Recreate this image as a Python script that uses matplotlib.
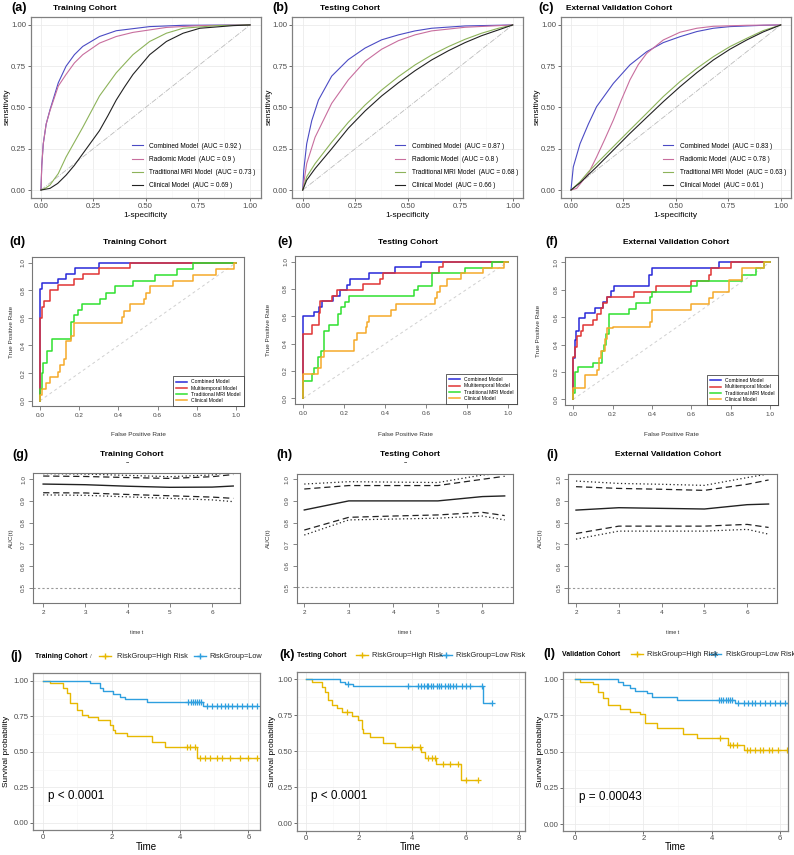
import numpy as np
import matplotlib.pyplot as plt
from matplotlib.lines import Line2D

plt.rcParams['font.family'] = ['Liberation Sans', 'DejaVu Sans']

W, H = 794, 855
fig = plt.figure(figsize=(W / 100, H / 100), dpi=100)

# ---------------- data ----------------
# row 1: smoothed ROC curves (fpr, sensitivity)
a_comb = [(0, 0), (0.004, 0.15), (0.011, 0.28), (0.025, 0.40), (0.043, 0.485), (0.083, 0.65), (0.12, 0.75),
          (0.16, 0.82), (0.2, 0.87), (0.28, 0.93), (0.36, 0.965), (0.52, 0.99), (0.68, 0.998), (1, 1)]
a_rad = [(0, 0), (0.004, 0.15), (0.011, 0.28), (0.025, 0.40), (0.043, 0.48), (0.083, 0.63), (0.12, 0.70),
         (0.16, 0.77), (0.2, 0.82), (0.28, 0.89), (0.36, 0.93), (0.44, 0.955), (0.6, 0.985), (0.76, 0.996), (1, 1)]
a_mri = [(0, 0), (0.02, 0.01), (0.043, 0.03), (0.083, 0.10), (0.12, 0.2), (0.16, 0.29), (0.2, 0.38), (0.24, 0.475),
         (0.28, 0.57), (0.36, 0.71), (0.44, 0.82), (0.52, 0.9), (0.6, 0.95), (0.68, 0.98), (0.84, 0.996), (1, 1)]
a_cli = [(0, 0), (0.043, 0.01), (0.08, 0.04), (0.12, 0.09), (0.16, 0.15), (0.2, 0.22), (0.24, 0.29), (0.28, 0.36),
         (0.32, 0.45), (0.36, 0.545), (0.4, 0.625), (0.44, 0.7), (0.52, 0.82), (0.6, 0.9), (0.68, 0.95),
         (0.76, 0.98), (0.92, 0.996), (1, 1)]

b_comb = [(0, 0), (0.005, 0.12), (0.019, 0.28), (0.043, 0.42), (0.075, 0.545), (0.138, 0.69), (0.217, 0.79),
          (0.297, 0.86), (0.376, 0.91), (0.456, 0.94), (0.535, 0.964), (0.614, 0.98), (0.773, 0.994), (1, 1)]
b_rad = [(0, 0), (0.019, 0.16), (0.059, 0.32), (0.138, 0.525), (0.217, 0.667), (0.297, 0.78), (0.376, 0.853),
         (0.456, 0.905), (0.535, 0.94), (0.614, 0.964), (0.773, 0.986), (1, 1)]
b_mri = [(0, 0), (0.019, 0.08), (0.059, 0.16), (0.138, 0.29), (0.217, 0.41), (0.297, 0.515), (0.376, 0.606),
         (0.456, 0.687), (0.535, 0.758), (0.614, 0.818), (0.694, 0.869), (0.773, 0.913), (0.852, 0.95),
         (0.932, 0.98), (1, 1)]
b_cli = [(0, 0), (0.019, 0.06), (0.059, 0.13), (0.138, 0.25), (0.217, 0.374), (0.297, 0.479), (0.376, 0.57),
         (0.456, 0.65), (0.535, 0.723), (0.614, 0.788), (0.694, 0.844), (0.773, 0.893), (0.852, 0.935),
         (0.932, 0.97), (1, 1)]

c_comb = [(0, 0), (0.011, 0.14), (0.043, 0.28), (0.083, 0.40), (0.122, 0.505), (0.202, 0.646), (0.281, 0.758),
          (0.361, 0.838), (0.44, 0.893), (0.52, 0.929), (0.6, 0.96), (0.679, 0.98), (0.758, 0.99), (0.917, 0.998), (1, 1)]
c_rad = [(0, 0), (0.027, 0.01), (0.083, 0.10), (0.122, 0.2), (0.162, 0.31), (0.202, 0.424), (0.24, 0.545),
         (0.281, 0.667), (0.321, 0.76), (0.361, 0.828), (0.44, 0.909), (0.52, 0.956), (0.6, 0.98), (0.679, 0.992),
         (0.838, 0.998), (1, 1)]
c_mri = [(0, 0), (0.043, 0.05), (0.083, 0.11), (0.122, 0.16), (0.202, 0.263), (0.281, 0.364), (0.361, 0.465),
         (0.44, 0.566), (0.52, 0.657), (0.6, 0.737), (0.679, 0.808), (0.758, 0.869), (0.838, 0.919), (0.917, 0.966), (1, 1)]
c_cli = [(0, 0), (0.043, 0.044), (0.122, 0.14), (0.202, 0.242), (0.281, 0.343), (0.361, 0.44), (0.44, 0.535),
         (0.52, 0.626), (0.6, 0.711), (0.679, 0.788), (0.758, 0.853), (0.838, 0.909), (0.917, 0.958), (1, 1)]

row1_models = ['Combined Model', 'Radiomic Model', 'Traditional MRI Model', 'Clinical Model']
a_auc = ['0.92', '0.9', '0.73', '0.69']
b_auc = ['0.87', '0.8', '0.68', '0.66']
c_auc = ['0.83', '0.78', '0.63', '0.61']

# row 2: empirical ROC steps (fpr where tpr jumps, tpr level)
d_comb_x = [0, 0, 0.01, 0.09, 0.13, 0.18, 0.3, 1]
d_comb_y = [0, 0.81, 0.85, 0.88, 0.92, 0.96, 1.0, 1.0]
d_multi_x = [0, 0, 0.01, 0.02, 0.05, 0.09, 0.175, 0.22, 0.3, 0.46, 1]
d_multi_y = [0, 0.6, 0.68, 0.72, 0.8, 0.84, 0.88, 0.92, 0.96, 1.0, 1.0]
d_mri_x = [0, 0, 0.01, 0.015, 0.034, 0.06, 0.158, 0.173, 0.196, 0.213, 0.306, 0.337, 0.383, 0.476, 0.587, 0.697, 0.78, 1]
d_mri_y = [0, 0.085, 0.2, 0.27, 0.36, 0.45, 0.57, 0.62, 0.66, 0.70, 0.74, 0.78, 0.83, 0.87, 0.91, 0.955, 1.0, 1.0]
d_cli_x = [0, 0, 0.01, 0.03, 0.05, 0.09, 0.1, 0.12, 0.135, 0.16, 0.175, 0.42, 0.43, 0.46, 0.53, 0.54, 0.56, 0.68,
           0.78, 0.9, 0.99, 1]
d_cli_y = [0, 0.04, 0.085, 0.13, 0.17, 0.21, 0.26, 0.3, 0.43, 0.47, 0.56, 0.61, 0.65, 0.7, 0.74, 0.78, 0.83, 0.87,
           0.91, 0.957, 1.0, 1.0]

e_comb_x = [0, 0, 0.05, 0.075, 0.09, 0.145, 0.18, 0.215, 0.23, 0.32, 0.445, 0.575, 1]
e_comb_y = [0, 0.6, 0.63, 0.67, 0.71, 0.75, 0.79, 0.83, 0.875, 0.917, 0.958, 1.0, 1.0]
e_multi_x = [0, 0, 0.04, 0.075, 0.08, 0.14, 0.165, 0.29, 0.375, 0.39, 0.66, 0.68, 1]
e_multi_y = [0, 0.47, 0.54, 0.625, 0.71, 0.75, 0.79, 0.835, 0.875, 0.917, 0.958, 1.0, 1.0]
e_mri_x = [0, 0, 0.04, 0.05, 0.07, 0.085, 0.1, 0.125, 0.17, 0.185, 0.205, 0.225, 0.54, 0.56, 0.63, 0.79, 0.92, 1]
e_mri_y = [0, 0.13, 0.175, 0.22, 0.3, 0.35, 0.49, 0.535, 0.62, 0.665, 0.705, 0.75, 0.79, 0.825, 0.915, 0.955, 1.0, 1.0]
e_cli_x = [0, 0, 0.07, 0.085, 0.1, 0.245, 0.26, 0.305, 0.31, 0.32, 0.43, 0.45, 0.64, 0.65, 0.665, 0.7, 0.77,
           0.875, 0.98, 1]
e_cli_y = [0, 0.175, 0.22, 0.3, 0.345, 0.43, 0.475, 0.52, 0.56, 0.605, 0.645, 0.69, 0.735, 0.78, 0.825, 0.87,
           0.915, 0.955, 1.0, 1.0]

f_comb_x = [0, 0, 0.01, 0.015, 0.03, 0.06, 0.11, 0.15, 0.17, 0.19, 0.205, 0.385, 0.4, 0.74, 1]
f_comb_y = [0, 0.3, 0.43, 0.5, 0.59, 0.63, 0.665, 0.71, 0.75, 0.79, 0.83, 0.91, 0.955, 1.0, 1.0]
f_multi_x = [0, 0, 0.01, 0.02, 0.04, 0.05, 0.1, 0.12, 0.14, 0.15, 0.17, 0.31, 0.42, 0.6, 0.69, 0.7, 0.8, 1]
f_multi_y = [0, 0.31, 0.38, 0.46, 0.5, 0.54, 0.58, 0.62, 0.665, 0.705, 0.745, 0.785, 0.825, 0.865, 0.91, 0.955, 1.0, 1.0]
f_mri_x = [0, 0, 0.01, 0.025, 0.1, 0.144, 0.156, 0.166, 0.18, 0.285, 0.32, 0.39, 0.4, 0.6, 0.627, 0.86, 0.93, 0.97, 1]
f_mri_y = [0, 0.045, 0.2, 0.235, 0.265, 0.35, 0.40, 0.48, 0.62, 0.66, 0.70, 0.745, 0.785, 0.825, 0.865, 0.91,
           0.955, 1.0, 1.0]
f_cli_x = [0, 0, 0.06, 0.12, 0.13, 0.14, 0.16, 0.17, 0.2, 0.39, 0.4, 0.6, 0.69, 0.71, 0.79, 0.86, 0.97, 1]
f_cli_y = [0, 0.085, 0.175, 0.215, 0.305, 0.35, 0.44, 0.52, 0.53, 0.565, 0.655, 0.695, 0.74, 0.78, 0.87, 0.955,
           1.0, 1.0]

row2_models = ['Combined Model', 'Multitemporal Model', 'Traditional MRI Model', 'Clinical Model']

# row 3: time-dependent AUC with two confidence bands
times = [2, 3, 4, 5, 6, 6.5]
g_auc = [0.978, 0.975, 0.968, 0.963, 0.964, 0.969]
g_dash_hi = [1.015, 1.013, 1.008, 1.004, 1.012, 1.022]
g_dot_hi = [1.026, 1.024, 1.018, 1.012, 1.02, 1.035]
g_dash_lo = [0.938, 0.937, 0.930, 0.924, 0.918, 0.912]
g_dot_lo = [0.928, 0.926, 0.919, 0.912, 0.905, 0.897]

h_auc = [0.858, 0.90, 0.90, 0.90, 0.92, 0.923]
h_dash_hi = [0.955, 0.971, 0.971, 0.971, 1.0, 1.014]
h_dot_hi = [0.978, 0.989, 0.987, 0.985, 1.02, 1.028]
h_dash_lo = [0.765, 0.824, 0.83, 0.835, 0.847, 0.832]
h_dot_lo = [0.742, 0.812, 0.816, 0.82, 0.83, 0.812]

i_auc = [0.858, 0.869, 0.866, 0.863, 0.883, 0.886]
i_dash_hi = [0.966, 0.958, 0.954, 0.949, 0.977, 0.997]
i_dot_hi = [0.992, 0.981, 0.977, 0.972, 1.008, 1.025]
i_dash_lo = [0.75, 0.784, 0.784, 0.784, 0.792, 0.778]
i_dot_lo = [0.724, 0.761, 0.761, 0.761, 0.769, 0.747]

# row 4: Kaplan-Meier curves
j_high_t = [0, 0.2, 0.59, 0.68, 0.78, 0.98, 1.12, 1.32, 1.61, 1.95, 2.05, 2.1, 2.44, 3.17, 3.56, 4.49]
j_high_s = [1.0, 0.984, 0.948, 0.913, 0.842, 0.795, 0.76, 0.744, 0.725, 0.69, 0.654, 0.63, 0.612, 0.572, 0.532, 0.454]
j_high_cens = [4.2, 4.3, 4.45, 4.59, 4.73, 4.88, 5.07, 5.22, 5.46, 5.76, 6.0, 6.24]
j_low_t = [0, 1.37, 1.66, 1.76, 2.05, 2.24, 2.39, 3.02, 4.66]
j_low_s = [1.0, 0.984, 0.953, 0.932, 0.906, 0.889, 0.871, 0.854, 0.823]
j_low_cens = [4.24, 4.31, 4.37, 4.44, 4.49, 4.56, 4.61, 4.78, 4.93, 5.07, 5.19, 5.32, 5.41, 5.51, 5.66, 5.8,
              5.95, 6.1, 6.24]

k_high_t = [0, 0.21, 0.59, 0.71, 0.84, 0.96, 1.15, 1.34, 1.71, 1.96, 2.09, 2.15, 2.4, 2.9, 3.34, 4.34, 4.47, 4.87, 5.84]
k_high_s = [1.0, 0.984, 0.949, 0.914, 0.856, 0.822, 0.799, 0.775, 0.745, 0.718, 0.653, 0.63, 0.602, 0.556, 0.528,
            0.498, 0.451, 0.41, 0.301]
k_high_cens = [1.53, 3.97, 4.28, 4.59, 4.72, 4.84, 5.16, 5.41, 5.72, 6.03, 6.47]
k_low_t = [0, 1.28, 1.46, 1.78, 6.66]
k_low_s = [1.0, 0.984, 0.968, 0.954, 0.833]
k_low_cens = [1.59, 3.84, 4.22, 4.34, 4.44, 4.53, 4.59, 4.68, 4.78, 4.91, 4.99, 5.09, 5.22, 5.32, 5.41, 5.53,
              5.62, 5.88, 6.03, 6.16, 6.6, 7.0]

l_high_t = [0, 0.15, 0.54, 0.68, 0.83, 0.98, 1.32, 1.61, 1.9, 2.05, 2.39, 3.17, 3.56, 4.47, 4.93]
l_high_s = [1.0, 0.979, 0.965, 0.915, 0.869, 0.823, 0.795, 0.776, 0.76, 0.70, 0.661, 0.622, 0.592, 0.546, 0.512]
l_high_cens = [4.24, 4.54, 4.63, 4.73, 5.02, 5.12, 5.27, 5.41, 5.51, 5.66, 5.76, 5.95, 6.2]
l_low_t = [0, 1.27, 1.41, 1.61, 1.76, 2.1, 2.24, 2.98, 4.68]
l_low_s = [1.0, 0.979, 0.961, 0.938, 0.922, 0.903, 0.876, 0.857, 0.834]
l_low_cens = [4.2, 4.26, 4.34, 4.41, 4.47, 4.54, 4.6, 4.78, 4.93, 5.07, 5.17, 5.27, 5.41, 5.56, 5.71, 5.85,
              6.0, 6.15, 6.29]

# ---------------- helpers ----------------
def box(l, t, r, b):
    return fig.add_axes([l / W, 1 - b / H, (r - l) / W, (b - t) / H])


def ftext(x, y, s, **kw):
    kw.setdefault('va', 'center')
    fig.text(x / W, 1 - y / H, s, **kw)


def gg_style(ax, xlim, ylim, xmaj, ymaj, xmin, ymin, xlab, ylab):
    ax.set_xlim(xlim)
    ax.set_ylim(ylim)
    ax.set_xticks(xmaj)
    ax.set_xticklabels(xlab)
    ax.set_yticks(ymaj)
    ax.set_yticklabels(ylab)
    ax.set_xticks(xmin, minor=True)
    ax.set_yticks(ymin, minor=True)
    ax.grid(which='major', color='#EBEBEB', lw=0.6)
    ax.grid(which='minor', color='#F5F5F5', lw=0.4)
    ax.set_axisbelow(True)
    ax.tick_params(which='minor', length=0)
    ax.tick_params(which='major', length=2, width=0.5, color='#333333', labelsize=5.6,
                   labelcolor='#4D4D4D', pad=1.2)
    for s in ax.spines.values():
        s.set_color('#808080')
        s.set_linewidth(0.9)


def base_style(ax, xlim, ylim, xt, yt, xlab, ylab):
    ax.set_xlim(xlim)
    ax.set_ylim(ylim)
    ax.set_xticks(xt)
    ax.set_xticklabels(xlab)
    ax.set_yticks(yt)
    ax.set_yticklabels(ylab, rotation=90, va='center')
    ax.tick_params(length=3, width=0.5, color='#555555', labelsize=4.6, labelcolor='#444444', pad=2)
    for s in ax.spines.values():
        s.set_color('#777777')
        s.set_linewidth(0.8)


# ---------------- row 1 ----------------
row1_colors = ['#4B4BC4', '#C86E9E', '#8DB35A', '#222222']
row1_boxes = [(30.5, 16.7, 260.5, 198.3), (292.2, 16.7, 523.2, 198.3), (560.5, 16.7, 791.2, 198.3)]
row1_curves = [[a_comb, a_rad, a_mri, a_cli], [b_comb, b_rad, b_mri, b_cli], [c_comb, c_rad, c_mri, c_cli]]
row1_aucs = [a_auc, b_auc, c_auc]
row1_tags = [('(a)', 11, 'Training Cohort', 53, 7), ('(b)', 272, 'Testing Cohort', 320, 269),
             ('(c)', 538, 'External Validation Cohort', 566, 537)]
q = [0, 0.25, 0.5, 0.75, 1]
qlab = ['0.00', '0.25', '0.50', '0.75', '1.00']
qmin = [0.125, 0.375, 0.625, 0.875]
for bx, curves, aucs, (tag, tx, title, ttx, ylx) in zip(row1_boxes, row1_curves, row1_aucs, row1_tags):
    ax = box(*bx)
    gg_style(ax, (-0.05, 1.05), (-0.05, 1.05), q, q, qmin, qmin, qlab, qlab)
    ax.plot([0, 1], [0, 1], color='#BBBBBB', lw=0.6, ls='-.')
    for pts, col, name, auc in zip(curves, row1_colors, row1_models, aucs):
        xs, ys = zip(*pts)
        ax.plot(xs, ys, color=col, lw=0.8, label=f'{name}  (AUC = {auc} )')
    ax.legend(loc='lower right', bbox_to_anchor=(0.99, 0.035), frameon=False, fontsize=4.7,
              handlelength=1.6, handletextpad=1.0, labelspacing=0.95, borderaxespad=0)
    ftext(tx, 8, tag, fontsize=9, fontweight='bold')
    ftext(ttx, 8, title, fontsize=6, fontweight='bold')
    ftext(ylx, 107, 'sensitivity', fontsize=6, rotation=90, ha='center')
    ftext((bx[0] + bx[2]) / 2, 215, '1-specificity', fontsize=6, ha='center')

# ---------------- row 2 ----------------
row2_colors = ['#2828D8', '#E03434', '#2FE02F', '#F5AA2A']
row2_boxes = [(32.2, 257.2, 243.8, 406.2), (295.1, 256.2, 516.5, 403.8), (565.4, 256.8, 777.9, 404.8)]
row2_data = [[(d_comb_x, d_comb_y), (d_multi_x, d_multi_y), (d_mri_x, d_mri_y), (d_cli_x, d_cli_y)],
             [(e_comb_x, e_comb_y), (e_multi_x, e_multi_y), (e_mri_x, e_mri_y), (e_cli_x, e_cli_y)],
             [(f_comb_x, f_comb_y), (f_multi_x, f_multi_y), (f_mri_x, f_mri_y), (f_cli_x, f_cli_y)]]
row2_tags = [('(d)', 17, 'Training Cohort', 135, 12), ('(e)', 285, 'Testing Cohort', 408, 268),
             ('(f)', 552, 'External Validation Cohort', 676, 539)]
p2 = [0, 0.2, 0.4, 0.6, 0.8, 1.0]
p2lab = ['0.0', '0.2', '0.4', '0.6', '0.8', '1.0']
for bx, series, (tag, tx, title, ttx, ylx) in zip(row2_boxes, row2_data, row2_tags):
    ax = box(*bx)
    base_style(ax, (-0.04, 1.04), (-0.04, 1.04), p2, p2, p2lab, p2lab)
    ax.plot([0, 1], [0, 1], color='#D0D0D0', lw=0.7, ls=(0, (3, 3)))
    for (xs, ys), col, name in zip(series, row2_colors, row2_models):
        ax.step(xs, ys, where='post', color=col, lw=1.1, label=name)
    leg = ax.legend(loc='lower right', bbox_to_anchor=(1, 0), fontsize=3.6, fancybox=False,
                    handlelength=2.2, handletextpad=0.8, labelspacing=0.25, borderaxespad=0,
                    borderpad=0.6, framealpha=1)
    leg.get_frame().set_edgecolor('#222222')
    leg.get_frame().set_linewidth(0.5)
    ftext(tx, 242, tag, fontsize=9, fontweight='bold', ha='center')
    ftext(ttx, 243, title, fontsize=6, fontweight='bold', ha='center')
    ftext(ylx, (bx[1] + bx[3]) / 2, 'True Positive Rate', fontsize=4.6, rotation=90, ha='center',
          color='#333333')
    ftext((bx[0] + bx[2]) / 2, 434, 'False Positive Rate', fontsize=4.6, ha='center', color='#333333')

# ---------------- row 3 ----------------
row3_boxes = [(33, 473, 240, 602.7), (296.7, 474, 512.7, 603.3), (568.3, 474, 776.7, 603.3)]
row3_lims = [((1.76, 6.66), (0.431, 1.029)), ((1.83, 6.68), (0.426, 1.0245)), ((1.82, 6.69), (0.428, 1.0245))]
row3_data = [(g_auc, g_dash_hi, g_dot_hi, g_dash_lo, g_dot_lo),
             (h_auc, h_dash_hi, h_dot_hi, h_dash_lo, h_dot_lo),
             (i_auc, i_dash_hi, i_dot_hi, i_dash_lo, i_dot_lo)]
row3_tags = [('(g)', 20, 'Training Cohort', 132, 11, True), ('(h)', 284, 'Testing Cohort', 410, 268, True),
             ('(i)', 552, 'External Validation Cohort', 668, 540, False)]
t3 = [2, 3, 4, 5, 6]
a3 = [0.5, 0.6, 0.7, 0.8, 0.9, 1.0]
for bx, (xl, yl), (auc, dhi, thi, dlo, tlo), (tag, tx, title, ttx, ylx, tilde) in zip(
        row3_boxes, row3_lims, row3_data, row3_tags):
    ax = box(*bx)
    base_style(ax, xl, yl, t3, a3, [str(v) for v in t3], [f'{v:.1f}' for v in a3])
    ax.axhline(0.5, color='#999999', lw=0.8, ls=(0, (2, 2)))
    ax.plot(times, auc, color='#222222', lw=1.0)
    ax.plot(times, dhi, color='#222222', lw=0.9, ls=(0, (5, 3)))
    ax.plot(times, dlo, color='#222222', lw=0.9, ls=(0, (5, 3)))
    ax.plot(times, thi, color='#222222', lw=0.9, ls=(0, (1, 2)))
    ax.plot(times, tlo, color='#222222', lw=0.9, ls=(0, (1, 2)))
    ftext(tx, 455, tag, fontsize=9, fontweight='bold', ha='center')
    ftext(ttx, 454, title, fontsize=6, fontweight='bold', ha='center')
    if tilde:
        ftext(ttx - 5, 463, '~', fontsize=4, fontweight='bold', ha='center')
    ftext(ylx, (bx[1] + bx[3]) / 2, 'AUC(t)', fontsize=4.6, rotation=90, ha='center', color='#333333')
    ftext((bx[0] + bx[2]) / 2, 632, 'time t', fontsize=4, ha='center', color='#333333')

# ---------------- row 4 ----------------
hi_col, lo_col = '#E7B800', '#2E9FDF'
row4_boxes = [(33, 673.3, 260, 830), (296.7, 672.3, 525, 831), (563, 672.3, 788, 831)]
row4_lims = [((-0.30, 6.34), (-0.052, 1.054)), ((-0.35, 8.23), (-0.053, 1.049)), ((-0.35, 6.23), (-0.048, 1.048))]
row4_xt = [[0, 2, 4, 6], [0, 2, 4, 6, 8], [0, 2, 4, 6]]
row4_data = [(j_high_t, j_high_s, j_high_cens, j_low_t, j_low_s, j_low_cens),
             (k_high_t, k_high_s, k_high_cens, k_low_t, k_low_s, k_low_cens),
             (l_high_t, l_high_s, l_high_cens, l_low_t, l_low_s, l_low_cens)]
row4_p = [('p < 0.0001', 0.14), ('p < 0.0001', 0.18), ('p = 0.00043', 0.12)]
row4_head = [('(j)', 16, 'Training Cohort', 35, 105, 'RiskGroup=High Risk', 117, 200, 'RiskGroup=Low', 209, 656),
             ('(k)', 287, 'Testing Cohort', 297, 362, 'RiskGroup=High Risk', 372, 446, 'RiskGroup=Low Risk', 456, 655),
             ('(l)', 549, 'Validation Cohort', 562, 637, 'RiskGroup=High Risk', 647, 715, 'RiskGroup=Low Risk', 726, 654)]
row4_ylx = [7, 272, 540]
yq = [0, 0.25, 0.5, 0.75, 1.0]
for bx, (xl, yl), xt, dat, (ptxt, px), head, ylx in zip(row4_boxes, row4_lims, row4_xt, row4_data,
                                                       row4_p, row4_head, row4_ylx):
    ax = box(*bx)
    xmin = [v + 1 for v in xt[:-1]]
    gg_style(ax, xl, yl, xt, yq, xmin, qmin, [str(v) for v in xt], qlab)
    for t, s, cens, col in ((dat[0], dat[1], dat[2], hi_col), (dat[3], dat[4], dat[5], lo_col)):
        t_end = max(max(cens), t[-1])
        ax.step(list(t) + [t_end], list(s) + [s[-1]], where='post', color=col, lw=1.0)
        idx = np.searchsorted(t, cens, side='right') - 1
        ax.plot(cens, np.array(s)[idx], ls='none', marker='+', color=col, ms=4.5, mew=0.9)
    ax.text(px, 0.19, ptxt, fontsize=8.5, va='center', ha='left')
    tag, tgx, title, tix, m1, l1, l1x, m2, l2, l2x, hy = head
    ftext(tgx, hy, tag, fontsize=9, fontweight='bold', ha='center')
    ftext(tix, hy, title, fontsize=5, fontweight='bold')
    if tag == '(j)':
        ftext(91, hy, '/', fontsize=4.5, color='#666666', ha='center')
    for mx, col in ((m1, hi_col), (m2, lo_col)):
        fig.add_artist(Line2D([(mx - 6) / W, (mx + 6) / W], [1 - hy / H, 1 - hy / H], color=col, lw=1.0,
                              transform=fig.transFigure))
        fig.add_artist(Line2D([mx / W], [1 - hy / H], color=col, marker='+', ms=5, mew=1.0, ls='none',
                              transform=fig.transFigure))
    ftext(l1x, hy, l1, fontsize=5.3, color='#222222')
    ftext(l2x, hy, l2, fontsize=5.3, color='#222222')
    ftext(ylx, (bx[1] + bx[3]) / 2, 'Survival probability', fontsize=6, rotation=90, ha='center')
    ftext((bx[0] + bx[2]) / 2, 847, 'Time', fontsize=7, ha='center')

fig.savefig('out.png', dpi=100)
